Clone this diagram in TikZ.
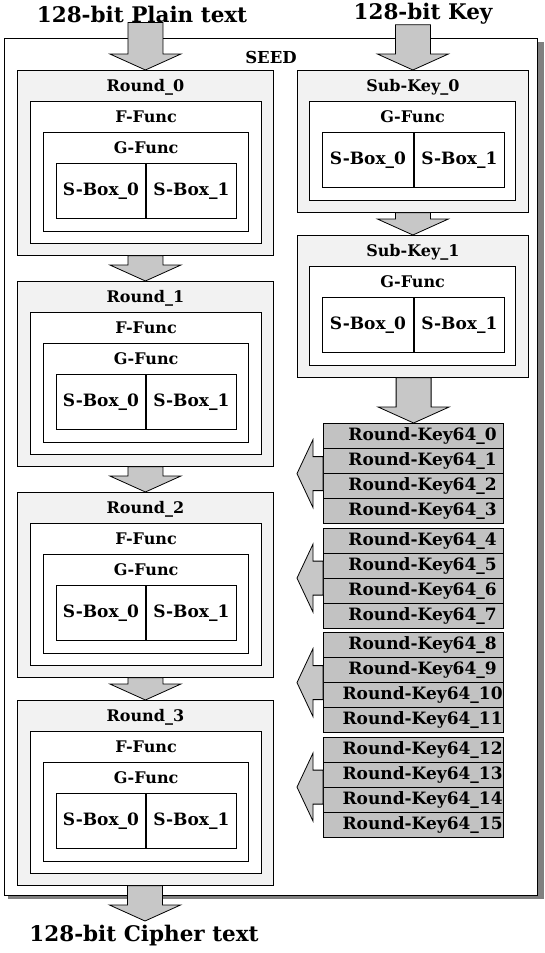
\documentclass[tikz,border=0pt]{standalone}
\usepackage{fontspec}
\setmainfont{DejaVu Serif}
\usetikzlibrary{calc}

% block arrows: shaft from #1, tip at #2
\newcommand{\fatdown}[2]{%
  \draw[fatarrow] let \p1=(#1), \p2=(#2) in
    (\x2-17.5pt,\y1) -- (\x2+17.5pt,\y1) -- (\x2+17.5pt,\y2+16pt) -- (\x2+35.5pt,\y2+16pt)
    -- (\x2,\y2) -- (\x2-35.5pt,\y2+16pt) -- (\x2-17.5pt,\y2+16pt) -- cycle;}
\newcommand{\fatleft}[2]{%
  \draw[fatarrow] let \p1=(#1), \p2=(#2) in
    (\x1,\y1+17pt) -- (\x2+16pt,\y1+17pt) -- (\x2+16pt,\y1+34pt) -- (\x2,\y1)
    -- (\x2+16pt,\y1-34pt) -- (\x2+16pt,\y1-17pt) -- (\x1,\y1-17pt) -- cycle;}

\tikzset{
  title/.style={font=\fontsize{21.5}{24}\selectfont\bfseries, inner sep=0pt},
  lbl/.style={font=\fontsize{16}{19}\selectfont\bfseries, inner sep=0pt},
  roundbox/.style={draw, line width=0.8pt, fill=black!5, anchor=north west, inner sep=0pt},
  funcbox/.style={draw, line width=1.2pt, fill=white, anchor=north west, inner sep=0pt},
  sboxhalf/.style={draw, line width=0.9pt, fill=white, anchor=north west, inner sep=0pt,
    minimum height=55pt, font=\fontsize{17}{20}\selectfont\bfseries},
  keyrow/.style={draw, line width=1.2pt, fill=black!24, anchor=north west, inner sep=0pt,
    minimum width=180pt, minimum height=25pt},
  keylbl/.style={font=\fontsize{17}{20}\selectfont\bfseries, inner sep=0pt},
  fatarrow/.style={draw, line width=0.8pt, fill=black!22, line join=miter},
}

\begin{document}
\begin{tikzpicture}[x=1pt, y=-1pt]
  \useasboundingbox (0,0) rectangle (545,953);

  % SEED frame with shadow
  \fill[black!50] (8,42) rectangle (544,899);
  \draw[fill=white, line width=0.8pt] (4,38) rectangle (537,895);
  \node[lbl, font=\fontsize{16.5}{19}\selectfont\bfseries] (seed) at (271,57) {SEED};

  % rounds
  \foreach \i/\yy in {0/70,1/281,2/492,3/700} {
    \node[roundbox, minimum width=256pt, minimum height=185pt] (r\i) at (17,\yy) {};
    \node[lbl] (r\i-t) at ($(r\i.north)+(0,17)$) {Round\_\i};
    \node[funcbox, minimum width=231pt, minimum height=142pt] (f\i) at (30,\yy+31) {};
    \node[lbl] (f\i-t) at ($(f\i.north)+(0,16)$) {F-Func};
    \node[funcbox, minimum width=205pt, minimum height=99pt] (g\i) at (43,\yy+62) {};
    \node[lbl] (g\i-t) at ($(g\i.north)+(0,16)$) {G-Func};
    \node[sboxhalf, minimum width=89pt] (s\i-0) at (56,\yy+93) {S-Box\_0};
    \node[sboxhalf, minimum width=90pt] (s\i-1) at (s\i-0.north east) {S-Box\_1};
  }

  % sub-keys
  \foreach \i/\yy in {0/70,1/235} {
    \node[roundbox, minimum width=231pt, minimum height=142pt] (k\i) at (297,\yy) {};
    \node[lbl] (k\i-t) at ($(k\i.north)+(0,17)$) {Sub-Key\_\i};
    \node[funcbox, minimum width=206pt, minimum height=99pt] (kg\i) at (309,\yy+31) {};
    \node[lbl] (kg\i-t) at ($(kg\i.north)+(0,16)$) {G-Func};
    \node[sboxhalf, minimum width=91pt] (ks\i-0) at (322,\yy+62) {S-Box\_0};
    \node[sboxhalf, minimum width=90pt] (ks\i-1) at (ks\i-0.north east) {S-Box\_1};
  }

  % round keys, four per group
  \foreach \g/\yy in {0/423,1/527.5,2/632,3/736.5} {
    \foreach \j in {0,...,3} {
      \pgfmathtruncatemacro\n{4*\g+\j}
      \node[keyrow] (rk\n) at (323,\yy+25*\j) {};
      \node[keylbl] (rk\n-t) at ($(rk\n.center)+(9,0)$) {Round-Key64\_\n};
    }
    \pgfmathtruncatemacro\a{4*\g}
    \pgfmathtruncatemacro\b{4*\g+3}
    \path (rk\a.north west) -- (rk\b.south west) coordinate[pos=0.5] (gw\g);
    \coordinate (tip\g) at ($(gw\g)+(-26,0)$);
    \fatleft{gw\g}{tip\g}
  }

  % inputs and output
  \node[title] (plain) at (142,14) {128-bit Plain text};
  \node[title] (key) at (423,14) {128-bit Key};
  \coordinate (out) at (145,921);
  \node[title] (cipher) at (144,936) {128-bit Cipher text};

  \fatdown{plain.south}{r0.north}
  \fatdown{r0.south}{r1.north}
  \fatdown{r1.south}{r2.north}
  \fatdown{r2.south}{r3.north}
  \fatdown{r3.south}{out}
  \fatdown{key.south}{k0.north}
  \fatdown{k0.south}{k1.north}
  \fatdown{k1.south}{rk0.north}
\end{tikzpicture}
\end{document}
